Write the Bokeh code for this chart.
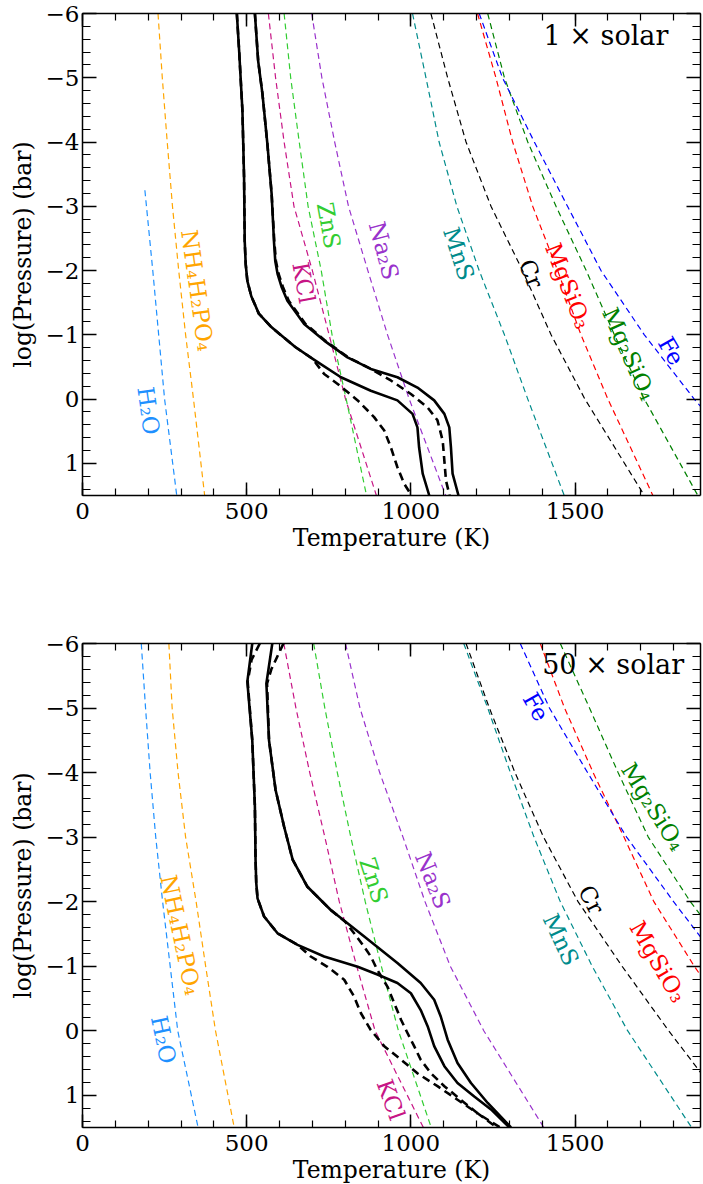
from bokeh.plotting import figure
from bokeh.models import Range1d, LinearAxis, FixedTicker, ColumnDataSource
from bokeh.layouts import column
from bokeh.embed import file_html
from bokeh.resources import INLINE
from bokeh.core.properties import value

FONT = "DejaVu Serif"

# ------------------------------------------------------------------ data
P_GRID = [-6, -5, -4, -3, -2, -1, 0, 1.5]          # log(P / bar)

LABELS = ["H₂O", "NH₄H₂PO₄", "KCl", "ZnS", "Na₂S", "MnS", "Cr",
          "MgSiO₃", "Mg₂SiO₄", "Fe"]

# ---- 1 x solar condensation curves (T in K on P_GRID)
h2o_1_logp = [-3.25, -2, -1, 0, 1.5]
h2o_1_T = [190, 214, 232, 250, 287]
nh4_1_T = [230, 243, 258, 274, 293, 314, 338, 372]
kcl_1_T = [566, 588, 614, 644, 700, 751, 801, 895]
zns_1_T = [614, 634, 660, 687, 727, 760, 803, 865]
na2s_1_T = [698, 729, 768, 810, 869, 929, 995, 1106]
mns_1_T = [1005, 1046, 1086, 1140, 1208, 1285, 1356, 1467]
cr_1_T = [1061, 1112, 1168, 1244, 1340, 1427, 1530, 1711]
mgsio3_1_T = [1203, 1259, 1310, 1371, 1447, 1518, 1600, 1737]
mg2sio4_1_T = [1234, 1285, 1356, 1442, 1534, 1620, 1711, 1874]
fe_1_T = [1208, 1279, 1376, 1477, 1579, 1711, 1863, 2120]

# ---- 50 x solar condensation curves
h2o_50_T = [179, 192, 206, 223, 244, 267, 290, 352]
nh4_50_T = [263, 273, 291, 314, 346, 375, 405, 462]
kcl_50_T = [613, 650, 692, 738, 782, 835, 891, 1038]
zns_50_T = [704, 738, 776, 817, 861, 910, 962, 1062]
na2s_50_T = [801, 845, 905, 976, 1043, 1120, 1222, 1405]
mns_50_T = [1161, 1234, 1303, 1375, 1455, 1552, 1660, 1855]
cr_50_T = [1168, 1239, 1317, 1404, 1509, 1643, 1785, 2010]
mgsio3_50_T = [1394, 1468, 1555, 1649, 1740, 1863, 2000, 2250]
mg2sio4_50_T = [1455, 1544, 1631, 1723, 1851, 2000, 2150, 2400]
fe_50_T = [1333, 1422, 1538, 1657, 1800, 1950, 2100, 2350]

# ---- 1 x solar P-T profiles
prof1_a_logp = [-6.0, -5.42, -4.49, -3.45, -2.46, -2.1, -1.84, -1.6, -1.33, -1.12,
                -0.95, -0.81, -0.63, -0.34, -0.13, 0.02, 0.23, 0.44, 0.75, 1.16, 1.5]
prof1_a_T = [470, 477, 487, 492, 494, 497, 502, 514, 537, 575,
             615, 648, 700, 787, 878, 959, 1005, 1020, 1025, 1036, 1056]
prof1_a_dash_logp = [-6.0, -5.42, -4.49, -3.45, -2.46, -2.1, -1.84, -1.6, -1.33, -1.12,
                     -0.95, -0.81, -0.63, -0.39, -0.24, 0.02, 0.28, 0.49, 0.75, 1.06,
                     1.32, 1.5]
prof1_a_dash_T = [470, 477, 487, 492, 494, 497, 502, 514, 537, 575,
                  615, 648, 700, 736, 776, 838, 888, 919, 939, 959,
                  980, 1002]
prof1_b_logp = [-6.0, -5.26, -4.75, -3.97, -3.19, -2.46, -2.15, -1.95, -1.75, -1.53,
                -1.17, -0.91, -0.65, -0.47, -0.34, -0.18, 0.02, 0.23, 0.44, 0.75,
                1.16, 1.5]
prof1_b_T = [525, 535, 548, 563, 576, 583, 587, 594, 606, 624,
             675, 736, 807, 878, 959, 1020, 1071, 1102, 1117, 1122,
             1127, 1145]
prof1_b_dash_logp = [-6.0, -5.26, -4.75, -3.97, -3.19, -2.46, -2.15, -1.95, -1.75, -1.53,
                     -1.17, -0.91, -0.65, -0.47, -0.29, -0.08, 0.13, 0.33, 0.65, 0.96,
                     1.27, 1.5]
prof1_b_dash_T = [525, 535, 548, 563, 576, 584, 589, 597, 610, 628,
                  679, 739, 809, 878, 939, 1000, 1051, 1081, 1097, 1102,
                  1107, 1118]

# ---- 50 x solar P-T profiles
prof50_a_logp = [-6.0, -5.41, -4.5, -3.47, -2.65, -2.3, -2.05, -1.77, -1.51, -1.33,
                 -1.15, -0.99, -0.87, -0.74, -0.58, -0.32, -0.07, 0.24, 0.55, 0.81,
                 1.02, 1.22, 1.5]
prof50_a_T = [517, 502, 517, 525, 527, 529, 533, 553, 594, 655,
              736, 838, 898, 959, 1000, 1030, 1051, 1071, 1102, 1142,
              1193, 1244, 1300]
prof50_a_dash_logp = [-6.0, -5.75, -5.41, -4.5, -3.47, -2.65, -2.3, -2.05, -1.77, -1.51,
                      -1.33, -1.15, -0.99, -0.79, -0.53, -0.27, -0.01, 0.24, 0.45, 0.66,
                      0.86, 1.07, 1.28, 1.5]
prof50_a_dash_T = [540, 515, 503, 517, 525, 527, 529, 533, 553, 594,
                   655, 695, 746, 797, 827, 848, 878, 919, 970, 1020,
                   1081, 1142, 1203, 1262]
prof50_b_logp = [-6.0, -5.38, -4.5, -3.73, -3.16, -2.65, -2.23, -1.87, -1.46, -1.05,
                 -0.74, -0.48, -0.22, 0.14, 0.50, 0.81, 1.12, 1.5]
prof50_b_T = [578, 560, 568, 588, 614, 640, 685, 756, 858, 959,
              1030, 1071, 1091, 1112, 1142, 1183, 1234, 1305]
prof50_b_dash_logp = [-6.0, -5.6, -5.38, -4.5, -3.73, -3.16, -2.65, -2.23, -1.87, -1.69,
                      -1.51, -1.30, -1.15, -0.94, -0.68, -0.43, -0.17, 0.04, 0.24, 0.45,
                      0.66, 0.86, 1.07, 1.28, 1.5]
prof50_b_dash_T = [612, 575, 562, 568, 588, 614, 640, 685, 756, 800,
                   827, 858, 878, 898, 929, 949, 970, 990, 1010, 1030,
                   1061, 1102, 1152, 1203, 1272]

# ---- species labels (annotation anchor points in data units)
lab1_T = [201, 350, 674, 750, 918, 1146, 1366, 1479, 1665, 1793]
lab1_logp = [0.18, -1.69, -1.81, -2.70, -2.31, -2.26, -1.95, -1.76, -0.70, -0.75]
lab50_T = [247, 299, 939, 887, 1067, 1457, 1549, 1753, 1738, 1381]
lab50_logp = [0.14, -1.48, 1.07, -2.33, -2.33, -1.41, -2.03, -1.07, -3.47, -5.02]

# ------------------------------------------------------------------ styles
COLORS = ["#1E90FF", "#FFA500", "#C71585", "#32CD32", "#9932CC",
          "#008B8B", "#000000", "#FF0000", "#008000", "#0000FF"]
lab1_angle = [-82, -82, -80, -80, -75, -72, -68, -69, -66, -60]
lab50_angle = [-78, -78, -70, -72, -68, -65, -62, -60, -58, -60]

X_MAX = 1882
Y_TICKS = [-6, -5, -4, -3, -2, -1, 0, 1]
Y_MINOR = [round(-6 + 0.2 * i, 2) for i in range(38)]
X_TICKS = [0, 500, 1000, 1500]
X_MINOR = list(range(0, 1901, 100))
Y_OVR = {t: ("\u2212" + str(-t) if t < 0 else str(t)) for t in Y_TICKS}


def style_axis(ax, ticker, labels, tick_major, tick_minor):
    ax.ticker = ticker
    ax.axis_line_color = "black"
    ax.axis_line_width = 1.5
    ax.major_tick_in = tick_major
    ax.major_tick_out = 0
    ax.minor_tick_in = tick_minor
    ax.minor_tick_out = 0
    ax.major_tick_line_width = 1.5
    ax.minor_tick_line_width = 1.2
    ax.major_tick_line_color = "black"
    ax.minor_tick_line_color = "black"
    if labels:
        ax.major_label_text_font = FONT
        ax.major_label_text_font_size = "23px"
        ax.major_label_text_color = "black"
        ax.axis_label_text_font = FONT
        ax.axis_label_text_font_size = "23.5px"
        ax.axis_label_text_font_style = "normal"
        ax.axis_label_text_color = "black"
    else:
        ax.major_label_overrides = {t: "" for t in ticker.ticks}
        ax.major_label_text_font_size = "1px"
        ax.major_label_standoff = 0
        ax.axis_label = None


def make_panel(cond, profiles, lab_T, lab_logp, lab_angle, solar_text, solar_T,
               solar_logp, border_top, border_bottom, frame_h):
    p = figure(frame_width=618, frame_height=frame_h,
               x_range=Range1d(0, X_MAX), y_range=Range1d(1.5, -6),
               output_backend="svg", toolbar_location=None,
               min_border_left=82, min_border_right=2,
               min_border_top=border_top, min_border_bottom=border_bottom,
               background_fill_color="white", border_fill_color="white")
    p.outline_line_color = None
    p.xgrid.visible = False
    p.ygrid.visible = False

    xt = FixedTicker(ticks=X_TICKS, minor_ticks=X_MINOR)
    yt = FixedTicker(ticks=Y_TICKS, minor_ticks=Y_MINOR)

    xa = p.xaxis[0]
    style_axis(xa, xt, True, 13, 7)
    xa.axis_label = "Temperature (K)"
    xa.major_label_standoff = 7
    xa.axis_label_standoff = 2

    ya = p.yaxis[0]
    style_axis(ya, yt, True, 14, 8)
    ya.axis_label = "log(Pressure) (bar)"
    ya.major_label_standoff = 3
    ya.axis_label_standoff = 6
    ya.major_label_overrides = Y_OVR

    top = LinearAxis()
    style_axis(top, FixedTicker(ticks=X_TICKS, minor_ticks=X_MINOR), False, 13, 7)
    p.add_layout(top, "above")
    right = LinearAxis()
    style_axis(right, FixedTicker(ticks=Y_TICKS, minor_ticks=Y_MINOR), False, 14, 8)
    p.add_layout(right, "right")

    for (xs, ys), col in zip(cond, COLORS):
        p.line(xs, ys, line_color=col, line_width=1.2, line_dash="6 4")

    for xs, ys, dashed in profiles:
        p.line(xs, ys, line_color="black", line_width=2.6,
               line_dash="8 5" if dashed else "solid", line_join="round")

    src = ColumnDataSource(dict(x=lab_T, y=lab_logp, text=LABELS,
                                angle=lab_angle, color=COLORS))
    p.text(x="x", y="y", text="text", angle="angle", angle_units="deg",
           text_color="color", source=src, text_font=value(FONT),
           text_font_size="23px", text_align="center", text_baseline="middle")

    p.text(x=[solar_T], y=[solar_logp], text=[solar_text],
           text_font=value(FONT), text_font_size="27px", text_color="black",
           text_align="right", text_baseline="middle")
    return p


cond1 = [(h2o_1_T, h2o_1_logp), (nh4_1_T, P_GRID), (kcl_1_T, P_GRID),
         (zns_1_T, P_GRID), (na2s_1_T, P_GRID), (mns_1_T, P_GRID),
         (cr_1_T, P_GRID), (mgsio3_1_T, P_GRID), (mg2sio4_1_T, P_GRID),
         (fe_1_T, P_GRID)]
cond50 = [(h2o_50_T, P_GRID), (nh4_50_T, P_GRID), (kcl_50_T, P_GRID),
          (zns_50_T, P_GRID), (na2s_50_T, P_GRID), (mns_50_T, P_GRID),
          (cr_50_T, P_GRID), (mgsio3_50_T, P_GRID), (mg2sio4_50_T, P_GRID),
          (fe_50_T, P_GRID)]

prof1 = [(prof1_a_dash_T, prof1_a_dash_logp, True),
         (prof1_b_dash_T, prof1_b_dash_logp, True),
         (prof1_a_T, prof1_a_logp, False),
         (prof1_b_T, prof1_b_logp, False)]
prof50 = [(prof50_a_dash_T, prof50_a_dash_logp, True),
          (prof50_b_dash_T, prof50_b_dash_logp, True),
          (prof50_a_T, prof50_a_logp, False),
          (prof50_b_T, prof50_b_logp, False)]

p1 = make_panel(cond1, prof1, lab1_T, lab1_logp, lab1_angle,
                "1 × solar", 1784, -5.65, 13, 70, 482)
p2 = make_panel(cond50, prof50, lab50_T, lab50_logp, lab50_angle,
                "50 × solar", 1832, -5.67, 78, 54, 484)

layout = column(p1, p2, spacing=0)
open("out.html", "w").write(file_html(layout, INLINE))
